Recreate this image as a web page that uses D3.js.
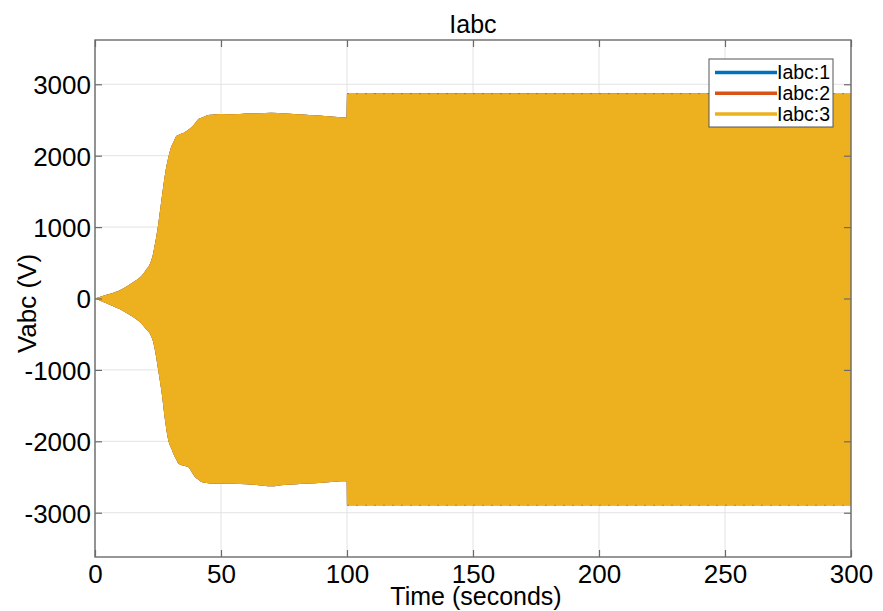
<!DOCTYPE html>
<html>
<head>
<meta charset="utf-8">
<script src="https://cdn.jsdelivr.net/npm/d3@7"></script>
<style>
  html, body { margin: 0; padding: 0; background: #fff; }
  svg { display: block; font-family: "Liberation Sans", Arial, sans-serif; }
</style>
</head>
<body>
<svg id="chart" width="883" height="611"></svg>
<script>
// ---- data ----
const chartTitle = "Iabc";
const xLabel = "Time (seconds)";
const yLabel = "Vabc (V)";
const seriesNames = ["Iabc:1", "Iabc:2", "Iabc:3"];
const seriesColors = ["#0072BD", "#D95319", "#EDB120"];
const xTicks = [0, 50, 100, 150, 200, 250, 300];
const yTicks = [-3000, -2000, -1000, 0, 1000, 2000, 3000];

// envelope of the oscillating three-phase signal (upper peaks)
const upperTime = [0, 3, 6, 8, 10, 13, 16, 18.5, 20, 21.8, 23, 23.8, 25.1, 26.5, 27.8, 29.1, 30.4, 32.4, 35.7, 38.4, 41, 45, 50, 55, 60, 65, 70, 75, 80, 85, 90, 95, 99.9, 100, 150, 200, 250, 300];
const upperValue = [0, 35, 65, 90, 120, 180, 250, 320, 390, 485, 620, 765, 1045, 1417, 1745, 1977, 2140, 2280, 2330, 2400, 2510, 2570, 2585, 2580, 2590, 2595, 2600, 2590, 2580, 2570, 2560, 2545, 2535, 2868, 2870, 2870, 2868, 2868];
// envelope (lower peaks)
const lowerTime = [0, 3, 6, 8, 10, 13, 16, 18.5, 20, 21.8, 23, 23.8, 25.1, 26.5, 27.8, 29.1, 31.1, 33.1, 37, 39.7, 42.3, 46.3, 50, 60, 70, 75, 80, 90, 95, 99.9, 100, 150, 200, 250, 300];
const lowerValue = [0, -45, -90, -121, -150, -214, -280, -354, -420, -494, -600, -727, -1007, -1333, -1707, -1987, -2173, -2313, -2360, -2500, -2570, -2593, -2590, -2600, -2630, -2610, -2600, -2580, -2565, -2560, -2895, -2895, -2895, -2895, -2895];

const xDomain = [0, 300];
const yDomain = [-3620, 3620];

// ---- layout ----
const svg = d3.select("#chart");
const L = 95, R = 851, T = 40, B = 557;
const x = d3.scaleLinear().domain(xDomain).range([L, R]);
const y = d3.scaleLinear().domain(yDomain).range([B, T]);

// grid
const grid = svg.append("g");
grid.selectAll(".gx").data(xTicks).join("line")
  .attr("x1", d => x(d)).attr("x2", d => x(d)).attr("y1", T).attr("y2", B)
  .attr("stroke", "#e3e3e3").attr("stroke-width", 1);
grid.selectAll(".gy").data(yTicks).join("line")
  .attr("x1", L).attr("x2", R).attr("y1", d => y(d)).attr("y2", d => y(d))
  .attr("stroke", "#e3e3e3").attr("stroke-width", 1);

// build band from upper and lower envelopes on a merged time grid
const interp = (ts, vs) => t => {
  for (let i = 1; i < ts.length; i++) if (t <= ts[i]) {
    const a = ts[i-1], b = ts[i];
    return vs[i-1] + (vs[i]-vs[i-1]) * (t-a)/(b-a);
  }
  return vs[vs.length-1];
};
const interpU = interp(upperTime, upperValue);
const interpL = interp(lowerTime, lowerValue);
const allT = Array.from(new Set(upperTime.concat(lowerTime))).sort((a, b) => a - b);
const band = allT.map(t => ({t, hi: interpU(t), lo: interpL(t)}));

const area = d3.area().curve(d3.curveMonotoneX)
  .x(d => x(d.t)).y0(d => y(d.lo)).y1(d => y(d.hi));

const plot = svg.append("g");
seriesColors.forEach(c => {
  plot.append("path").datum(band).attr("d", area).attr("fill", c);
});

// phase-2 peaks peeking out at the edge after t = 100
const late = band.filter(d => d.t >= 100);
["hi", "lo"].forEach(k => {
  plot.append("path").datum(late)
    .attr("d", d3.line().x(d => x(d.t)).y(d => y(d[k])))
    .attr("fill", "none").attr("stroke", "#a8602a").attr("stroke-width", 1.2)
    .attr("stroke-dasharray", "2,7").attr("opacity", 0.6);
});

// axes box
const axisColor = "#6b6b6b";
svg.append("rect").attr("x", L).attr("y", T).attr("width", R - L).attr("height", B - T)
  .attr("fill", "none").attr("stroke", axisColor).attr("stroke-width", 1.4);

// axes with inward ticks
const fontSize = 26;
const fmt = d => String(d);
const xAxis = svg.append("g").attr("transform", `translate(0,${B})`)
  .call(d3.axisBottom(x).tickValues(xTicks).tickSize(-7).tickPadding(8).tickFormat(fmt));
const yAxis = svg.append("g").attr("transform", `translate(${L},0)`)
  .call(d3.axisLeft(y).tickValues(yTicks).tickSize(-7).tickPadding(4).tickFormat(fmt));
const xAxisTop = svg.append("g").attr("transform", `translate(0,${T})`)
  .call(d3.axisTop(x).tickValues(xTicks).tickSize(-7).tickFormat(""));
const yAxisRight = svg.append("g").attr("transform", `translate(${R},0)`)
  .call(d3.axisRight(y).tickValues(yTicks).tickSize(-7).tickFormat(""));
[xAxis, yAxis, xAxisTop, yAxisRight].forEach(g => {
  g.select(".domain").remove();
  g.selectAll(".tick line").attr("stroke", axisColor).attr("stroke-width", 1.2);
  g.selectAll(".tick text").attr("fill", "#000")
    .attr("font-family", "Liberation Sans, Arial, sans-serif").attr("font-size", fontSize);
});
xAxis.selectAll(".tick text").attr("dy", "0.71em");
yAxis.selectAll(".tick text").attr("dy", "0.36em");

// title & labels
svg.append("text").attr("x", (L + R) / 2).attr("y", 33).attr("text-anchor", "middle")
  .attr("font-size", 25).attr("fill", "#000").text(chartTitle);
svg.append("text").attr("x", (L + R) / 2 + 3).attr("y", 605).attr("text-anchor", "middle")
  .attr("font-size", 25).attr("fill", "#000").text(xLabel);
svg.append("text").attr("transform", `translate(36,${(T + B) / 2 + 5}) rotate(-90)`)
  .attr("text-anchor", "middle").attr("font-size", 26).attr("fill", "#000").text(yLabel);

// legend
const lg = svg.append("g");
lg.append("rect").attr("x", 709).attr("y", 59).attr("width", 124).attr("height", 68)
  .attr("fill", "#fff").attr("stroke", "#555").attr("stroke-width", 1);
seriesNames.forEach((name, i) => {
  const yy = 72.5 + i * 20.8;
  lg.append("line").attr("x1", 715).attr("x2", 777).attr("y1", yy).attr("y2", yy)
    .attr("stroke", seriesColors[i]).attr("stroke-width", 3.5);
  lg.append("text").attr("x", 777).attr("y", yy).attr("dy", "0.35em")
    .attr("font-size", 19.5).attr("fill", "#000").text(name);
});
</script>
</body>
</html>
